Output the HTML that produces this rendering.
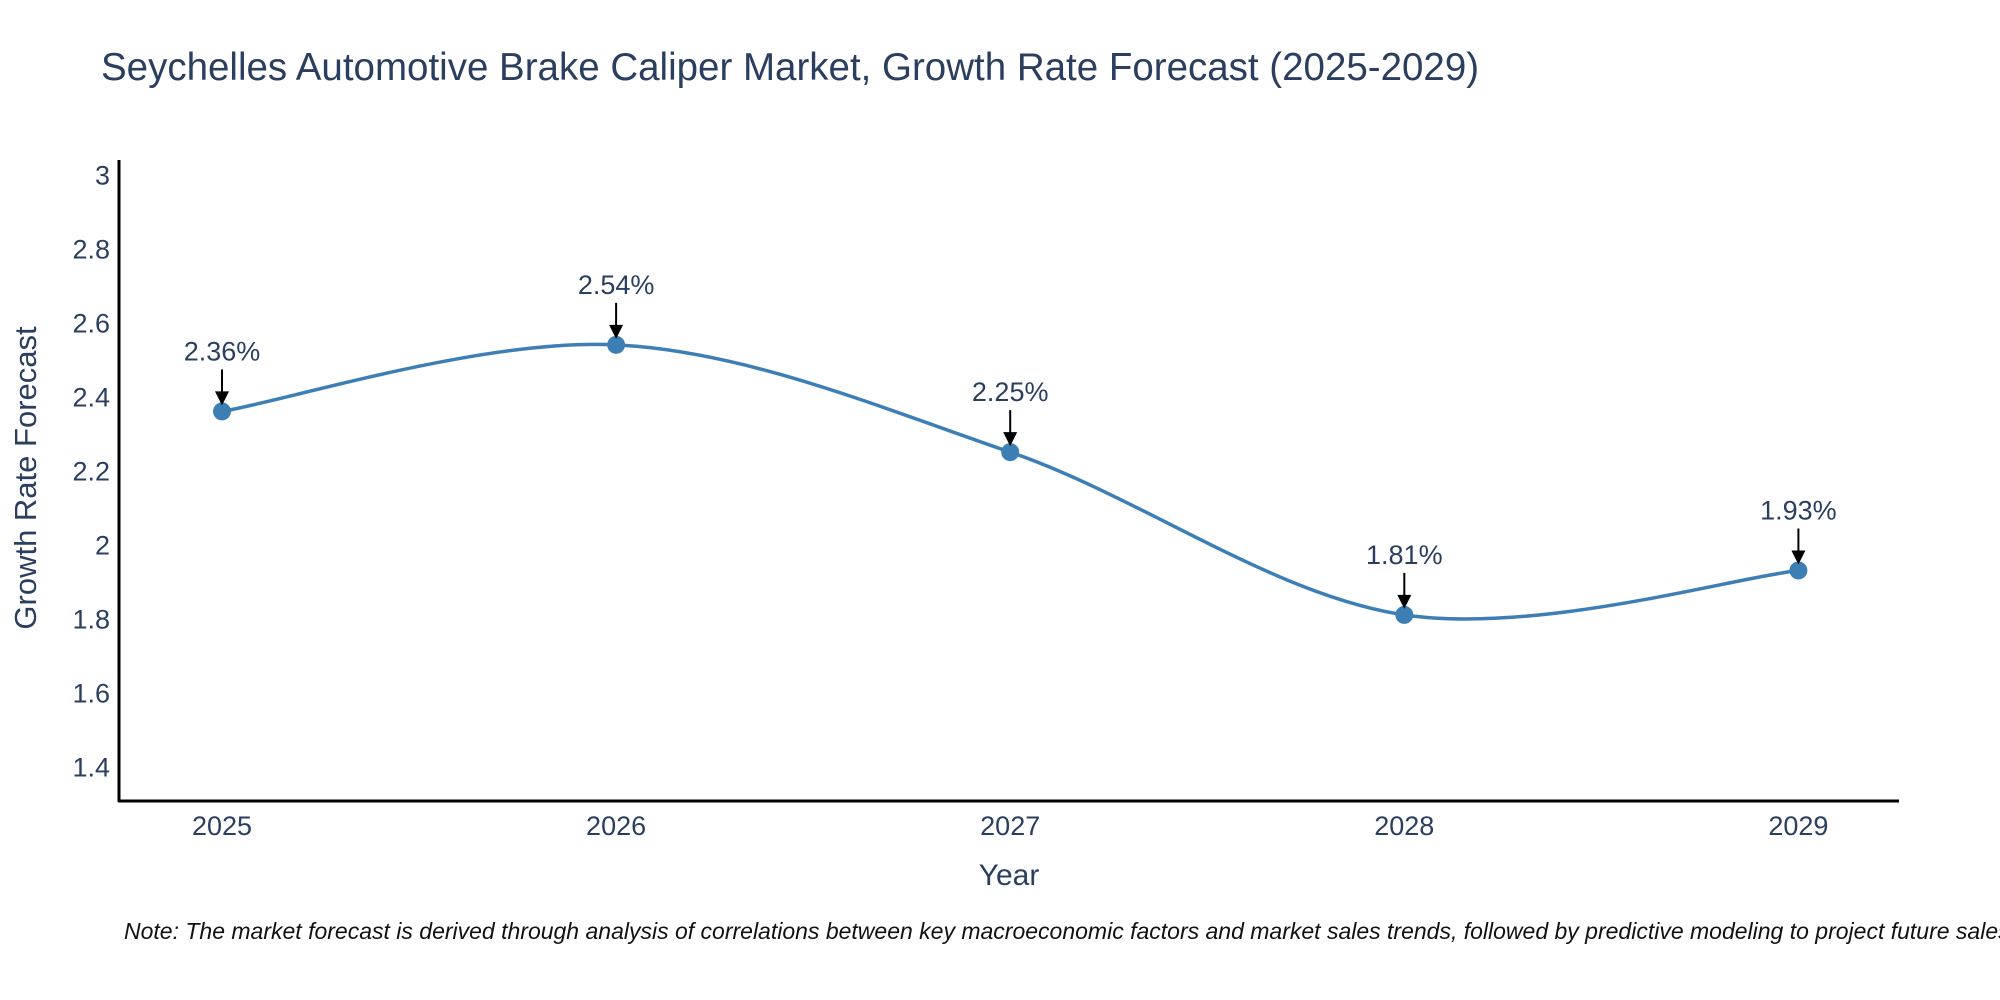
<!DOCTYPE html>
<html><head><meta charset="utf-8"><style>
html,body{margin:0;padding:0;background:#fff;width:2000px;height:1000px;overflow:hidden}
text{font-family:"Liberation Sans","DejaVu Sans",sans-serif;fill:#2a3f5f}
</style></head><body>
<svg id="chart" width="2000" height="1000" xmlns="http://www.w3.org/2000/svg">
<text x="101" y="80" font-size="38.5">Seychelles Automotive Brake Caliper Market, Growth Rate Forecast (2025-2029)</text>
<g id="axes"></g>
<g id="series"></g>
<text x="1009" y="885" font-size="30" text-anchor="middle">Year</text>
<text transform="translate(36,478) rotate(-90)" font-size="31" text-anchor="middle">Growth Rate Forecast</text>
<text x="124" y="939" font-size="23" font-style="italic" style="fill:#111">Note: The market forecast is derived through analysis of correlations between key macroeconomic factors and market sales trends, followed by predictive modeling to project future sales.</text>
</svg>
<script>
const categories = ["2025","2026","2027","2028","2029"];
const values = [2.36, 2.54, 2.25, 1.81, 1.93];
const yTicks = [1.4, 1.6, 1.8, 2, 2.2, 2.4, 2.6, 2.8, 3];
const labels = ["2.36%","2.54%","2.25%","1.81%","1.93%"];

const NS = "http://www.w3.org/2000/svg";
const X0 = 222, XSTEP = 394.1;
function xs(i){ return X0 + i*XSTEP; }
function ys(v){ return 174.7 + (3 - v)*369.9; }
function mk(tag, attrs, parent){ const e=document.createElementNS(NS,tag); for(const k in attrs) e.setAttribute(k,attrs[k]); parent.appendChild(e); return e; }

const axes = document.getElementById('axes');
const series = document.getElementById('series');
let yl = mk('line',{x1:119,y1:160,x2:119,y2:802,stroke:'#000','stroke-width':3},axes);


let xl = mk('line',{x1:118,y1:801,x2:1899,y2:801,stroke:'#000','stroke-width':3},axes);


yTicks.forEach(t=>{
  const e = mk('text',{x:110,y:ys(t)+10,'font-size':27,'text-anchor':'end'},axes);
  e.textContent = String(t);
  
  
});
categories.forEach((c,i)=>{
  const e = mk('text',{x:xs(i),y:835,'font-size':27,'text-anchor':'middle'},axes);
  e.textContent = c;
  
  
});

const pts = values.map((v,i)=>[xs(i),ys(v)]);
let d = `M${pts[0][0]},${pts[0][1]}`;
const t = 1/6;
for(let i=0;i<pts.length-1;i++){
  const p0=pts[i-1]||pts[i], p1=pts[i], p2=pts[i+1], p3=pts[i+2]||pts[i+1];
  const c1=[p1[0]+(p2[0]-p0[0])*t, p1[1]+(p2[1]-p0[1])*t];
  const c2=[p2[0]-(p3[0]-p1[0])*t, p2[1]-(p3[1]-p1[1])*t];
  d += ` C${c1[0]},${c1[1]} ${c2[0]},${c2[1]} ${p2[0]},${p2[1]}`;
}
const line = mk('path',{d:d,fill:'none',stroke:'#3d7fb5','stroke-width':3.5},series);



pts.forEach((p,i)=>{
  const c = mk('circle',{cx:p[0],cy:p[1],r:9,fill:'#3d7fb5'},series);
  
  
  const a = mk('line',{x1:p[0],y1:p[1]-42,x2:p[0],y2:p[1]-18,stroke:'#000','stroke-width':2},series);
  
  
  const h = mk('polygon',{points:`${p[0]-7},${p[1]-20} ${p[0]+7},${p[1]-20} ${p[0]},${p[1]-6}`,fill:'#000'},series);
  
  
  const tx = mk('text',{x:p[0],y:p[1]-51,'font-size':27,'text-anchor':'middle'},series);
  tx.textContent = labels[i];
  
  
});
</script>
</body></html>
